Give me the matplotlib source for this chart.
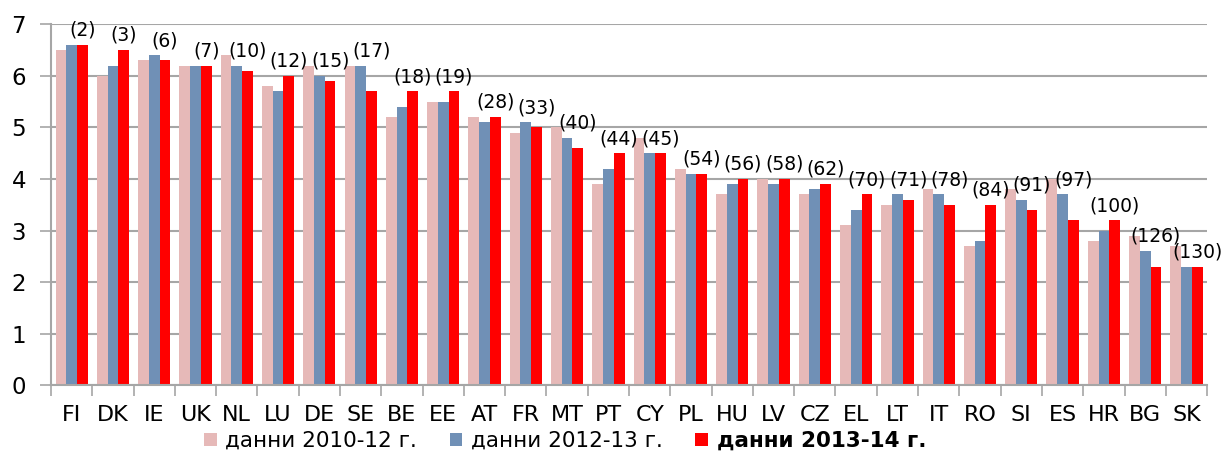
import numpy as np
import matplotlib
matplotlib.use('Agg')
import matplotlib.pyplot as plt

countries = ['FI', 'DK', 'IE', 'UK', 'NL', 'LU', 'DE', 'SE', 'BE', 'EE', 'AT', 'FR', 'MT', 'PT',
             'CY', 'PL', 'HU', 'LV', 'CZ', 'EL', 'LT', 'IT', 'RO', 'SI', 'ES', 'HR', 'BG', 'SK']
d2010_12 = [6.5, 6.0, 6.3, 6.2, 6.4, 5.8, 6.2, 6.2, 5.2, 5.5, 5.2, 4.9, 5.0, 3.9,
            4.8, 4.2, 3.7, 4.0, 3.7, 3.1, 3.5, 3.8, 2.7, 3.8, 4.0, 2.8, 2.9, 2.7]
d2012_13 = [6.6, 6.2, 6.4, 6.2, 6.2, 5.7, 6.0, 6.2, 5.4, 5.5, 5.1, 5.1, 4.8, 4.2,
            4.5, 4.1, 3.9, 3.9, 3.8, 3.4, 3.7, 3.7, 2.8, 3.6, 3.7, 3.0, 2.6, 2.3]
d2013_14 = [6.6, 6.5, 6.3, 6.2, 6.1, 6.0, 5.9, 5.7, 5.7, 5.7, 5.2, 5.0, 4.6, 4.5,
            4.5, 4.1, 4.0, 4.0, 3.9, 3.7, 3.6, 3.5, 3.5, 3.4, 3.2, 3.2, 2.3, 2.3]
ranks = [2, 3, 6, 7, 10, 12, 15, 17, 18, 19, 28, 33, 40, 44,
         45, 54, 56, 58, 62, 70, 71, 78, 84, 91, 97, 100, 126, 130]
series_names = ['данни 2010-12 г.', 'данни 2012-13 г.', 'данни 2013-14 г.']

plt.rcParams['font.family'] = ['DejaVu Sans']

fig = plt.figure(figsize=(12.23, 4.51), dpi=100)
ax = fig.add_axes([0.0417, 0.146, 0.9453, 0.80])

x = np.arange(len(countries))
w = 0.26
ax.bar(x - w, d2010_12, w, color='#E6B9B8', label=series_names[0], zorder=2)
ax.bar(x, d2012_13, w, color='#7090B6', label=series_names[1], zorder=2)
ax.bar(x + w, d2013_14, w, color='#FF0000', label=series_names[2], zorder=2)

# rank in brackets above the newest bar
for i, r in enumerate(ranks):
    top = max(d2012_13[i], d2013_14[i]) + 0.1
    ax.text(x[i] + w, top, '(%d)' % r, ha='center', va='bottom', fontsize=13.5, zorder=3)

ax.set_xlim(-0.5, len(countries) - 0.5)
ax.set_ylim(0, 7)
ax.set_yticks(range(0, 8))
ax.yaxis.grid(True, color='#A6A6A6', linewidth=1.5, zorder=0)
ax.set_axisbelow(True)

ax.set_xticks(np.arange(len(countries) + 1) - 0.5)
ax.set_xticklabels([])
ax.set_xticks(x, minor=True)
ax.set_xticklabels(countries, minor=True)
ax.tick_params(axis='x', which='major', length=8, width=1.2, color='#A6A6A6', direction='out')
ax.tick_params(axis='x', which='minor', length=0, pad=14, labelsize=16)
ax.tick_params(axis='y', length=8, width=1.2, color='#A6A6A6', pad=10, labelsize=16.5)

for s in ['top', 'right']:
    ax.spines[s].set_visible(False)
for s in ['left', 'bottom']:
    ax.spines[s].set_color('#A6A6A6')
    ax.spines[s].set_linewidth(1.5)

leg = fig.legend(loc='center', bbox_to_anchor=(0.462, 0.022), ncol=3, frameon=False,
                 fontsize=15.5, handlelength=0.6, handleheight=0.6, handletextpad=0.4,
                 columnspacing=1.5, borderaxespad=0, borderpad=0)
leg.get_texts()[2].set_fontweight('bold')

fig.savefig('out.png', dpi=100)
